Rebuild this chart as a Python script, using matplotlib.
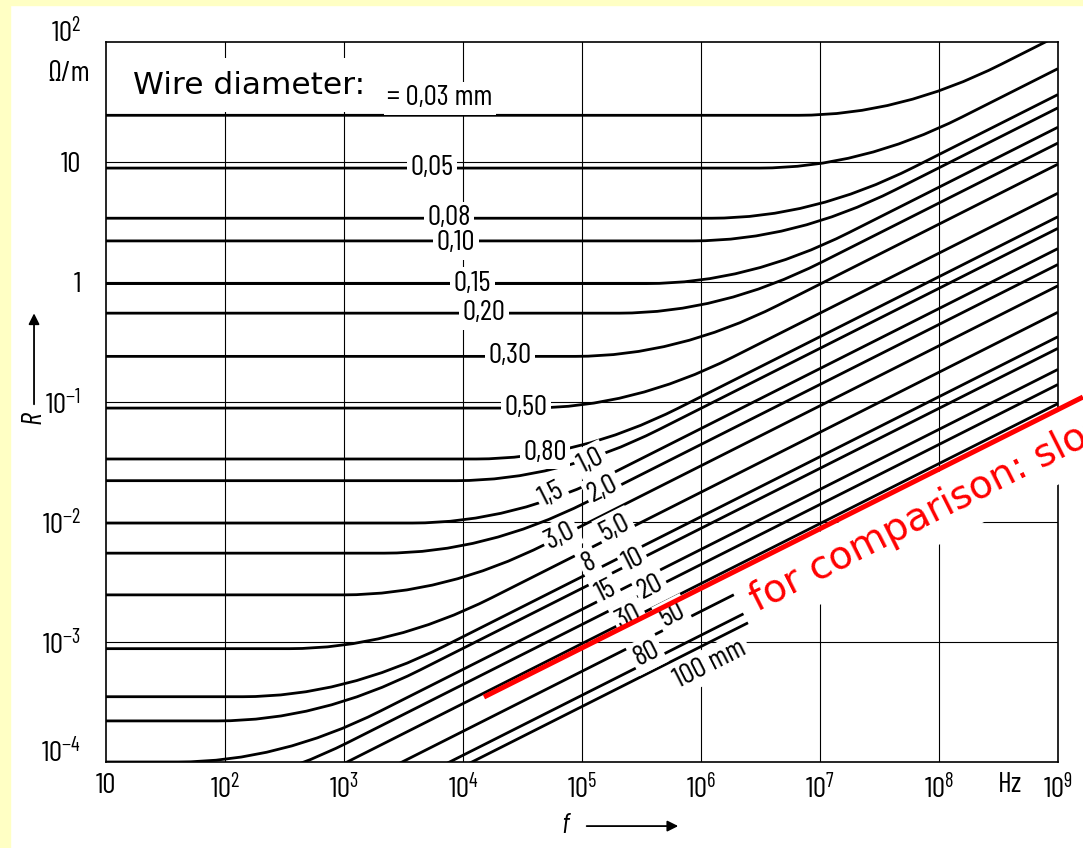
import numpy as np
import matplotlib
matplotlib.use("Agg")
import matplotlib.pyplot as plt
from matplotlib import font_manager
from matplotlib.path import Path
from matplotlib.patches import PathPatch, Rectangle

# --- data ---
# wire diameters as printed on the curves
diam_labels = ["= 0,03 mm", "0,05", "0,08", "0,10", "0,15", "0,20", "0,30", "0,50",
               "0,80", "1,0", "1,5", "2,0", "3,0", "5,0", "8", "10", "15", "20",
               "30", "50", "80", "100 mm"]
# flat (DC) part of each curve, Ohm/m
r_dc = [24.5, 8.9, 3.4, 2.2, 0.97, 0.55, 0.24, 0.089,
        0.0335, 0.0221, 0.0098, 0.0055, 0.00247, 0.00088, 0.00035, 0.00022,
        1.0e-4, 5.5e-5, 2.4e-5, 8.8e-6, 3.4e-6, 2.2e-6]
# rising part of each curve, value where it meets 1 GHz (extended), Ohm/m
r_1ghz = [113, 60, 36.5, 28.3, 19.5, 14.4, 9.6, 5.5,
          3.5, 2.8, 1.9, 1.4, 0.93, 0.56, 0.35, 0.28,
          0.187, 0.14, 0.097, 0.057, 0.036, 0.029]

# label centres (Hz, Ohm/m) and whether the label follows the slope
label_f = [6.4e3, 5.5e3, 7.6e3, 8.7e3, 1.2e4, 1.5e4, 2.5e4, 3.4e4,
           4.9e4, 1.2e5, 5.6e4, 1.5e5, 6.6e4, 1.9e5, 1.15e5, 2.7e5,
           1.6e5, 3.8e5, 2.5e5, 5.8e5, 3.5e5, 1.2e6]
label_r = [34.1, 8.9, 3.4, 2.1, 0.97, 0.55, 0.24, 0.089,
           0.0376, 0.0322, 0.0171, 0.0188, 7.64e-3, 8.9e-3, 4.55e-3, 4.83e-3,
           2.66e-3, 2.87e-3, 1.62e-3, 1.68e-3, 7.94e-4, 6.56e-4]
label_sloped = [False] * 9 + [True] * 13

# red comparison line (slope 1/2)
cmp_f = [1.5e4, 1.62e9]
cmp_r = [3.48e-4, 0.110]

x_ticks = [10, 1e2, 1e3, 1e4, 1e5, 1e6, 1e7, 1e8, 1e9]
x_ticklabels = ["10", "$10^{2}$", "$10^{3}$", "$10^{4}$", "$10^{5}$",
                "$10^{6}$", "$10^{7}$", "$10^{8}$", "$10^{9}$"]
y_ticks = [1e-4, 1e-3, 1e-2, 1e-1, 1, 10, 1e2]
y_ticklabels = ["$10^{-4}$", "$10^{-3}$", "$10^{-2}$", "$10^{-1}$", "1", "10",
                "$10^{2}$"]

# --- fonts: DIN-like condensed face for the scanned chart lettering ---
names = {f.name for f in font_manager.fontManager.ttflist}
din = "Barlow Condensed" if "Barlow Condensed" in names else "DejaVu Sans"
din_list = [din, "DejaVu Sans"]
plt.rcParams["mathtext.fontset"] = "custom"
plt.rcParams["mathtext.rm"] = din
plt.rcParams["mathtext.it"] = din + ":italic"
plt.rcParams["mathtext.bf"] = din + ":bold"

fig = plt.figure(figsize=(10.83, 8.48), dpi=100, facecolor="white")
yellow = "#ffffc4"
fig.add_artist(Rectangle((0, 0), 10 / 1083, 1, transform=fig.transFigure,
                         color=yellow, zorder=0))
fig.add_artist(Rectangle((0, 1 - 5 / 848), 1, 5 / 848, transform=fig.transFigure,
                         color=yellow, zorder=0))

ax = fig.add_axes([106 / 1083, 1 - 762 / 848, 952 / 1083, 720 / 848])
ax.set_xscale("log")
ax.set_yscale("log")
ax.set_xlim(10, 1e9)
ax.set_ylim(1e-4, 1e2)

# grid
for xv in x_ticks[1:-1]:
    ax.axvline(xv, color="black", lw=0.8, zorder=1)
for yv in y_ticks[1:-1]:
    ax.axhline(yv, color="black", lw=0.8, zorder=1)

# curves: flat part, rounded knee, straight sqrt(f) part
knee = 0.85  # decades either side of the corner
k = 10 ** knee
for rdc, r1 in zip(r_dc, r_1ghz):
    fc = 1e9 * (rdc / r1) ** 2
    verts = [(0.1, rdc), (fc / k, rdc), (fc, rdc), (fc * k, rdc * np.sqrt(k)), (1e9, r1)]
    codes = [Path.MOVETO, Path.LINETO, Path.CURVE3, Path.CURVE3, Path.LINETO]
    ax.add_patch(PathPatch(Path(verts, codes), fill=False, lw=2.0,
                           edgecolor="black", zorder=3, capstyle="butt"))

# curve labels (white box first, then the text on top)
slope_angle = np.degrees(np.arctan(0.5 * 120 / 119))
for lab, lf, lr, sl in zip(diam_labels, label_f, label_r, label_sloped):
    rot = slope_angle if sl else 0
    for visible in (False, True):
        ax.text(lf, lr, lab, rotation=rot, rotation_mode="anchor",
                ha="center", va="center", fontsize=21, family=din,
                color="black" if visible else "none",
                bbox=None if visible else dict(boxstyle="square,pad=0.12",
                                               fc="white", ec="none"),
                zorder=5 if visible else 4)

ax.text(16.9, 43.8, "Wire diameter:", ha="left", va="center", fontsize=22.5,
        family="DejaVu Sans", zorder=5,
        bbox=dict(boxstyle="square,pad=0.4", fc="white", ec="none"))

# red comparison line with its note
ax.text(3.0e6, 1.78e-3, "for comparison: slope 1/2", rotation=slope_angle,
        rotation_mode="anchor", ha="left", va="baseline", fontsize=28,
        color="red", family="DejaVu Sans", zorder=8, clip_on=False,
        bbox=dict(boxstyle="square,pad=0.35", fc="white", ec="none"))
ax.plot(cmp_f, cmp_r, color="red", lw=3.6, solid_capstyle="butt",
        clip_on=False, zorder=9)

# axes
for sp in ax.spines.values():
    sp.set_linewidth(1.2)
    sp.set_zorder(6)
ax.set_xticks(x_ticks, x_ticklabels)
ax.set_yticks(y_ticks, y_ticklabels)
ax.minorticks_off()
ax.tick_params(length=0, labelsize=21)
ax.tick_params(axis="x", pad=8)
ax.tick_params(axis="y", pad=18)
for lbl in ax.get_xticklabels() + ax.get_yticklabels():
    lbl.set_family(din)
ax.get_yticklabels()[-1].set_va("baseline")
ax.get_yticklabels()[0].set_va("baseline")

ax.text(3.95e8, -0.032, "Hz", transform=ax.get_xaxis_transform(),
        ha="center", va="center", fontsize=21, family=din)
ax.text(-0.039, 0.9556, "\u03a9/m", transform=ax.transAxes, ha="center",
        va="center", fontsize=21, family=din_list)

# axis names with arrows
ax.text(0.482, -0.089, "f", transform=ax.transAxes, ha="center", va="center",
        fontsize=21, family=din, style="italic")
ax.annotate("", xy=(0.604, -0.089), xytext=(0.502, -0.089), xycoords="axes fraction",
            arrowprops=dict(arrowstyle="-|>", lw=1.3, color="black",
                            mutation_scale=16), annotation_clip=False)
ax.text(-0.0756, 0.478, "R", transform=ax.transAxes, ha="center", va="center",
        fontsize=21, family=din, style="italic", rotation=90)
ax.annotate("", xy=(-0.0756, 0.627), xytext=(-0.0756, 0.493), xycoords="axes fraction",
            arrowprops=dict(arrowstyle="-|>", lw=1.3, color="black",
                            mutation_scale=16), annotation_clip=False)

fig.savefig("out.png", dpi=100, facecolor="white")
